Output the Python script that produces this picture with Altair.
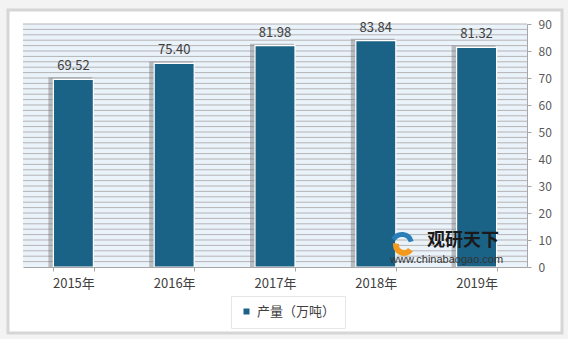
import altair as alt
import pandas as pd

years = ["2015年", "2016年", "2017年", "2018年", "2019年"]
output = [69.52, 75.40, 81.98, 83.84, 81.32]
value_labels = ["69.52", "75.40", "81.98", "83.84", "81.32"]
series_name = "产量（万吨）"
y_ticks = [0, 10, 20, 30, 40, 50, 60, 70, 80, 90]
stripe_levels = list(range(2, 92, 2))

FONT = "Noto Sans CJK SC"
BAR = "#1b6386"

df = pd.DataFrame({"year": years, "value": output, "label": value_labels, "series": series_name})
stripes = pd.DataFrame({"lvl": stripe_levels})
one = alt.Data(values=[{"a": 1}])

W, H = 504, 243
xs = alt.X("year:N", sort=years, scale=alt.Scale(paddingInner=0.6, paddingOuter=0.3),
           axis=alt.Axis(title=None, labelAngle=0, labelFont=FONT, labelFontSize=13,
                         labelColor="#404040", labelPadding=6, domainColor="#a6a6a6",
                         tickColor="#a6a6a6", tickSize=4, tickBand="extent", grid=False,
                         zindex=1))
yscale = alt.Scale(domain=[0, 90], nice=False)
yaxis = alt.Axis(title=None, orient="right", values=y_ticks, labelFont=FONT,
                 labelFontSize=12, labelColor="#595959", labelPadding=7,
                 domainColor="#a6a6a6", tickColor="#a6a6a6", tickSize=4, grid=False,
                 zindex=1)
ys = alt.Y("value:Q", scale=yscale, axis=yaxis)

frame = alt.Chart(one).mark_rect(fill="white", stroke="#d6d6d6", strokeWidth=3).encode(
    x=alt.value(-15), x2=alt.value(539), y=alt.value(-14), y2=alt.value(309))
plotbg = alt.Chart(one).mark_rect(fill="#eaf2fa").encode(
    x=alt.value(0), x2=alt.value(W), y=alt.value(0), y2=alt.value(H))
stripe = alt.Chart(stripes).mark_rule(color="#b4b4b4", strokeWidth=1).encode(
    y=alt.Y("lvl:Q", scale=yscale, axis=yaxis), x=alt.value(0), x2=alt.value(W))

base = alt.Chart(df)
shadow = base.mark_bar(color="#6b6b6b", opacity=0.4, size=44, xOffset=-3, yOffset=-2).encode(
    x=xs, y=ys, y2=alt.datum(0))
bars = base.mark_bar(size=40, stroke="white", strokeWidth=1.2).encode(
    x=xs, y=ys, y2=alt.datum(0),
    color=alt.Color("series:N", scale=alt.Scale(domain=[series_name], range=[BAR]),
                    legend=alt.Legend(title=None, orient="none", legendX=208, legendY=272,
                                      fillColor="white", strokeColor="#e6e6e6", padding=9,
                                      symbolType="square", symbolSize=36, symbolStrokeWidth=0,
                                      labelOffset=4,
                                      labelFont=FONT, labelFontSize=13, labelColor="#404040",
                                      direction="horizontal")))
labels = base.mark_text(font=FONT, fontSize=13, color="#404040", baseline="bottom", dy=-6).encode(
    x=xs, y=ys, text="label:N")

wm_text = alt.Chart(one).mark_text(font=FONT, fontSize=18, fontWeight="bold", color="#1a1a1a",
                                   align="left", baseline="middle", text="观研天下").encode(
    x=alt.value(404), y=alt.value(217))
wm_url = alt.Chart(one).mark_text(font="Liberation Sans", fontSize=11, color="#333333",
                                  align="left", baseline="middle", text="www.chinabaogao.com").encode(
    x=alt.value(367), y=alt.value(236))
wm_blue = alt.Chart(one).mark_arc(color="#2b7fb8", innerRadius=7, outerRadius=12,
                                  theta=5.2, theta2=7.6).encode(x=alt.value(379), y=alt.value(220))
wm_orange = alt.Chart(one).mark_arc(color="#f39a1e", innerRadius=5, outerRadius=11,
                                    theta=2.2, theta2=4.9).encode(x=alt.value(381), y=alt.value(221))

chart = alt.layer(frame, plotbg, stripe, shadow, bars, labels,
                  wm_blue, wm_orange, wm_text, wm_url).properties(
    width=W, height=H, background="#f3f3f3",
    padding={"left": 23, "top": 24, "right": 41, "bottom": 72},
    autosize=alt.AutoSizeParams(type="none")
).configure_view(stroke=None)

chart.save("out.html", embed_options={"renderer": "svg", "actions": False})
